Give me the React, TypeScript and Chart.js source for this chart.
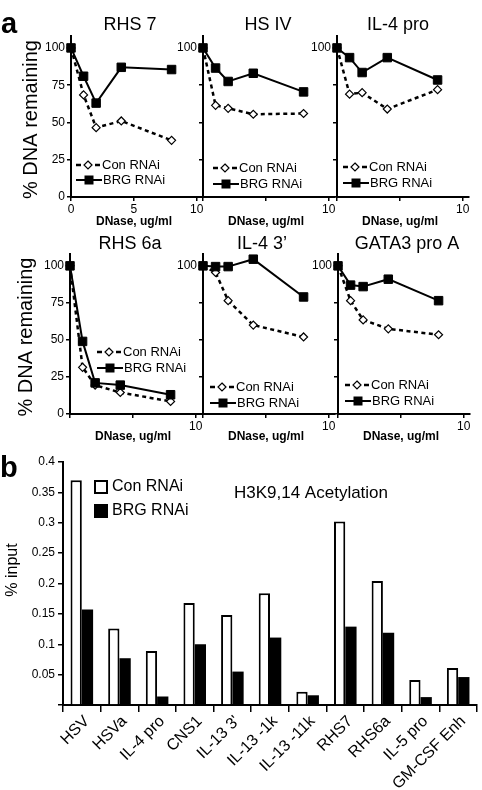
import React, { useEffect, useRef } from 'react';
import { Chart, registerables } from 'chart.js';

Chart.register(...registerables);

const FONT = "'Liberation Sans', Arial, Helvetica, sans-serif";

// ---------- panel a data ----------
const doses = [0, 1, 2, 4, 8];
const doseTicks = [0, 5, 10];
const remainingTicks = [0, 25, 50, 75, 100];

const rhs7Con = [100, 68.5, 46.5, 51, 38];
const rhs7Brg = [100, 81, 63, 87, 85.5];
const hs4Con = [100, 61.5, 59.5, 55.5, 56];
const hs4Brg = [100, 86.5, 77.5, 83, 70.5];
const il4ProCon = [100, 69, 70, 59, 72];
const il4ProBrg = [100, 93.5, 83.5, 93.5, 78.5];
const rhs6aCon = [100, 31.5, 19.5, 14.5, 8.5];
const rhs6aBrg = [100, 49, 21, 19.5, 13];
const il43Con = [100, 95.5, 76.5, 60, 52];
const il43Brg = [100, 99.5, 99.5, 104.5, 79];
const gata3Con = [100, 76.5, 63.5, 57.5, 53.5];
const gata3Brg = [100, 87, 86, 91, 76.5];

// ---------- panel b data ----------
const loci = ['HSV', 'HSVa', 'IL-4 pro', 'CNS1', "IL-13 3'", 'IL-13 -1k', 'IL-13 -11k', 'RHS7', 'RHS6a', 'IL-5 pro', 'GM-CSF Enh'];
const conInput = [0.37, 0.126, 0.089, 0.168, 0.148, 0.184, 0.022, 0.302, 0.204, 0.041, 0.061];
const brgInput = [0.157, 0.077, 0.014, 0.1, 0.055, 0.111, 0.016, 0.129, 0.119, 0.013, 0.046];
const inputTicks = [0, 0.05, 0.1, 0.15, 0.2, 0.25, 0.3, 0.35, 0.4];

const CON_LABEL = 'Con RNAi';
const BRG_LABEL = 'BRG RNAi';

type Row = { top: number; height: number; padTop: number; xH: number; titleDY: number; xTitleDY: number };
const ROW1: Row = { top: 0, height: 230, padTop: 36, xH: 33, titleDY: -11, xTitleDY: 25 };
const ROW2: Row = { top: 230, height: 215, padTop: 24, xH: 31, titleDY: -10, xTitleDY: 23 };

type Panel = {
  title: string;
  con: number[];
  brg: number[];
  row: Row;
  chartLeft: number;
  canvasLeft: number;
  allX: boolean;
  allY: boolean;
  titleDX: number;
  legX: number;
  legY1: number;
  legY2: number;
  yTitleDX?: number;
};

const CHART_W = 132;

const panels: Panel[] = [
  { title: 'RHS 7', con: rhs7Con, brg: rhs7Brg, row: ROW1, chartLeft: 71, canvasLeft: 0, allX: true, allY: true, titleDX: 59, legX: 5, legY1: 32, legY2: 17, yTitleDX: -40 },
  { title: 'HS IV', con: hs4Con, brg: hs4Brg, row: ROW1, chartLeft: 203, canvasLeft: 158, allX: false, allY: false, titleDX: 65, legX: 10, legY1: 29, legY2: 13 },
  { title: 'IL-4 pro', con: il4ProCon, brg: il4ProBrg, row: ROW1, chartLeft: 337, canvasLeft: 292, allX: false, allY: false, titleDX: 61, legX: 6, legY1: 30, legY2: 14 },
  { title: 'RHS 6a', con: rhs6aCon, brg: rhs6aBrg, row: ROW2, chartLeft: 70, canvasLeft: 0, allX: false, allY: true, titleDX: 60, legX: 27, legY1: 62, legY2: 46, yTitleDX: -44 },
  { title: 'IL-4 3\u2019', con: il43Con, brg: il43Brg, row: ROW2, chartLeft: 203, canvasLeft: 158, allX: false, allY: false, titleDX: 59, legX: 7, legY1: 27, legY2: 11 },
  { title: 'GATA3 pro A', con: gata3Con, brg: gata3Brg, row: ROW2, chartLeft: 338, canvasLeft: 293, allX: false, allY: false, titleDX: 69, legX: 7, legY1: 29, legY2: 13 },
];

function drawLegendA(ctx: CanvasRenderingContext2D, x: number, y1: number, y2: number, l1: string, l2: string) {
  ctx.save();
  ctx.strokeStyle = '#000';
  ctx.lineWidth = 2.5;
  ctx.beginPath();
  ctx.moveTo(x, y1);
  ctx.lineTo(x + 5, y1);
  ctx.moveTo(x + 19, y1);
  ctx.lineTo(x + 24, y1);
  ctx.stroke();
  ctx.lineWidth = 1.2;
  ctx.beginPath();
  ctx.moveTo(x + 12, y1 - 4);
  ctx.lineTo(x + 16, y1);
  ctx.lineTo(x + 12, y1 + 4);
  ctx.lineTo(x + 8, y1);
  ctx.closePath();
  ctx.fillStyle = '#fff';
  ctx.fill();
  ctx.stroke();
  ctx.lineWidth = 2;
  ctx.beginPath();
  ctx.moveTo(x, y2);
  ctx.lineTo(x + 26, y2);
  ctx.stroke();
  ctx.fillStyle = '#000';
  ctx.fillRect(x + 13 - 4.5, y2 - 4.5, 9, 9);
  ctx.font = `13px ${FONT}`;
  ctx.textAlign = 'left';
  ctx.textBaseline = 'middle';
  ctx.fillText(l1, x + 26, y1);
  ctx.fillText(l2, x + 27, y2);
  ctx.restore();
}

function lineConfig(p: Panel): any {
  const yW = p.chartLeft - p.canvasLeft;
  const decor = {
    id: 'decorA',
    afterDraw(chart: any) {
      const ctx: CanvasRenderingContext2D = chart.ctx;
      const a = chart.chartArea;
      ctx.save();
      ctx.fillStyle = '#000';
      ctx.textAlign = 'center';
      ctx.textBaseline = 'middle';
      ctx.font = `18px ${FONT}`;
      ctx.fillText(p.title, a.left + p.titleDX, a.top + p.row.titleDY);
      ctx.font = `bold 12px ${FONT}`;
      ctx.fillText('DNase, ug/ml', a.left + 63, a.bottom + p.row.xTitleDY);
      if (p.yTitleDX !== undefined) {
        ctx.save();
        ctx.translate(a.left + p.yTitleDX, (a.top + a.bottom) / 2 + 3);
        ctx.rotate(-Math.PI / 2);
        ctx.font = `20px ${FONT}`;
        ctx.fillText('% DNA remaining', 0, 0);
        ctx.restore();
      }
      ctx.restore();
      const ds = chart.data.datasets;
      drawLegendA(ctx, a.left + p.legX, a.bottom - p.legY1, a.bottom - p.legY2, ds[1].label, ds[0].label);
    },
  };
  return {
    type: 'line',
    data: {
      datasets: [
        {
          label: BRG_LABEL,
          data: doses.map((d, i) => ({ x: d, y: p.brg[i] })),
          borderColor: '#000',
          borderWidth: 2,
          pointStyle: 'rect',
          pointRadius: 6,
          pointBackgroundColor: '#000',
          pointBorderColor: '#000',
          pointBorderWidth: 1,
          tension: 0,
          clip: false,
        },
        {
          label: CON_LABEL,
          data: doses.map((d, i) => ({ x: d, y: p.con[i] })),
          borderColor: '#000',
          borderWidth: 2.5,
          borderDash: [4, 3.5],
          pointStyle: 'rectRot',
          pointRadius: 4,
          pointBackgroundColor: '#fff',
          pointBorderColor: '#000',
          pointBorderWidth: 1.2,
          tension: 0,
          clip: false,
        },
      ],
    },
    options: {
      animation: false,
      responsive: false,
      devicePixelRatio: 1,
      layout: { padding: { top: p.row.padTop, right: 10, left: 0, bottom: 0 } },
      plugins: { legend: { display: false }, tooltip: { enabled: false } },
      scales: {
        x: {
          type: 'linear',
          min: 0,
          max: 10.5,
          afterBuildTicks: (s: any) => {
            s.ticks = doseTicks.map((v) => ({ value: v }));
          },
          afterFit: (s: any) => {
            s.height = p.row.xH;
          },
          ticks: {
            callback: (v: number) => (p.allX || v === 10 ? String(v) : ''),
            font: { size: 12, family: FONT },
            color: '#000',
            padding: 1,
            maxRotation: 0,
            autoSkip: false,
          },
          grid: { drawOnChartArea: false, drawTicks: true, tickLength: 4, color: '#000', lineWidth: 1.5 },
          border: { display: true, color: '#000', width: 2 },
        },
        y: {
          type: 'linear',
          min: 0,
          max: 108,
          afterBuildTicks: (s: any) => {
            s.ticks = remainingTicks.map((v) => ({ value: v }));
          },
          afterFit: (s: any) => {
            s.width = yW;
          },
          ticks: {
            callback: (v: number) => (p.allY || v === 100 ? String(v) : ''),
            font: { size: 12, family: FONT },
            color: '#000',
            padding: 2,
            autoSkip: false,
          },
          grid: { drawOnChartArea: false, drawTicks: true, tickLength: 4, color: '#000', lineWidth: 1.5 },
          border: { display: true, color: '#000', width: 2 },
        },
      },
    },
    plugins: [decor],
  };
}

function barConfig(): any {
  const decor = {
    id: 'decorB',
    afterDraw(chart: any) {
      const ctx: CanvasRenderingContext2D = chart.ctx;
      const a = chart.chartArea;
      const ds = chart.data.datasets;
      ctx.save();
      ctx.fillStyle = '#000';
      ctx.strokeStyle = '#000';
      // legend
      const bx = a.left + 31;
      const y1 = a.top + 25;
      const y2 = a.top + 49;
      ctx.lineWidth = 2;
      ctx.fillStyle = '#fff';
      ctx.fillRect(bx, y1 - 7, 14, 14);
      ctx.strokeRect(bx + 1, y1 - 6, 12, 12);
      ctx.fillStyle = '#000';
      ctx.fillRect(bx, y2 - 7, 14, 14);
      ctx.font = `16px ${FONT}`;
      ctx.textAlign = 'left';
      ctx.textBaseline = 'middle';
      ctx.fillText(ds[0].label, bx + 18, y1);
      ctx.fillText(ds[1].label, bx + 18, y2);
      // title
      ctx.font = `17px ${FONT}`;
      ctx.textAlign = 'center';
      ctx.fillText('H3K9,14 Acetylation', a.left + 248, a.top + 31);
      // y title
      ctx.translate(a.left - 50, a.top + 108);
      ctx.rotate(-Math.PI / 2);
      ctx.font = `16px ${FONT}`;
      ctx.fillText('% input', 0, 0);
      ctx.restore();
    },
  };
  return {
    type: 'bar',
    data: {
      labels: loci,
      datasets: [
        {
          label: CON_LABEL,
          data: conInput,
          backgroundColor: '#fff',
          borderColor: '#000',
          borderWidth: 2,
          categoryPercentage: 0.6,
          barPercentage: 1,
        },
        {
          label: BRG_LABEL,
          data: brgInput,
          backgroundColor: '#000',
          borderColor: '#000',
          borderWidth: 0,
          categoryPercentage: 0.6,
          barPercentage: 1,
        },
      ],
    },
    options: {
      animation: false,
      responsive: false,
      devicePixelRatio: 1,
      layout: { padding: { top: 17, right: 5, left: 0, bottom: 0 } },
      plugins: { legend: { display: false }, tooltip: { enabled: false } },
      scales: {
        x: {
          afterFit: (s: any) => {
            s.height = 85;
          },
          ticks: {
            font: { size: 16, family: FONT },
            color: '#000',
            maxRotation: 45,
            minRotation: 45,
            autoSkip: false,
            padding: 0,
            labelOffset: 5,
          },
          grid: { offset: true, drawOnChartArea: false, drawTicks: true, tickLength: 7, color: '#000', lineWidth: 1.5 },
          border: { display: true, color: '#000', width: 2 },
        },
        y: {
          min: 0,
          max: 0.4,
          afterBuildTicks: (s: any) => {
            s.ticks = inputTicks.map((v) => ({ value: v }));
          },
          afterFit: (s: any) => {
            s.width = 63;
          },
          ticks: {
            callback: (v: number) => (v === 0 ? '' : String(v)),
            font: { size: 12, family: FONT },
            color: '#000',
            padding: 3,
            autoSkip: false,
          },
          grid: { drawOnChartArea: false, drawTicks: true, tickLength: 5, color: '#000', lineWidth: 1.5 },
          border: { display: true, color: '#000', width: 2 },
        },
      },
    },
    plugins: [decor],
  };
}

function ChartCanvas(props: { left: number; top: number; width: number; height: number; make: () => any }) {
  const ref = useRef<HTMLCanvasElement>(null);
  useEffect(() => {
    const chart = new Chart(ref.current as HTMLCanvasElement, props.make());
    return () => chart.destroy();
  }, []);
  return (
    <canvas
      ref={ref}
      width={props.width}
      height={props.height}
      style={{ position: 'absolute', left: props.left, top: props.top, width: props.width, height: props.height }}
    />
  );
}

export default function App() {
  Chart.defaults.font.family = FONT;
  Chart.defaults.color = '#000';
  return (
    <div style={{ position: 'absolute', left: 0, top: 0, width: 482, height: 790, background: '#fff', fontFamily: FONT, overflow: 'hidden' }}>
      {panels.map((p, i) => (
        <ChartCanvas
          key={i}
          left={p.canvasLeft}
          top={p.row.top}
          width={p.chartLeft - p.canvasLeft + CHART_W + 10}
          height={p.row.height}
          make={() => lineConfig(p)}
        />
      ))}
      <ChartCanvas left={0} top={445} width={482} height={345} make={barConfig} />
      <div style={{ position: 'absolute', left: 1, top: 8.5, fontSize: 29, fontWeight: 'bold', lineHeight: '29px' }}>a</div>
      <div style={{ position: 'absolute', left: 0, top: 452.5, fontSize: 29, fontWeight: 'bold', lineHeight: '29px' }}>b</div>
    </div>
  );
}
